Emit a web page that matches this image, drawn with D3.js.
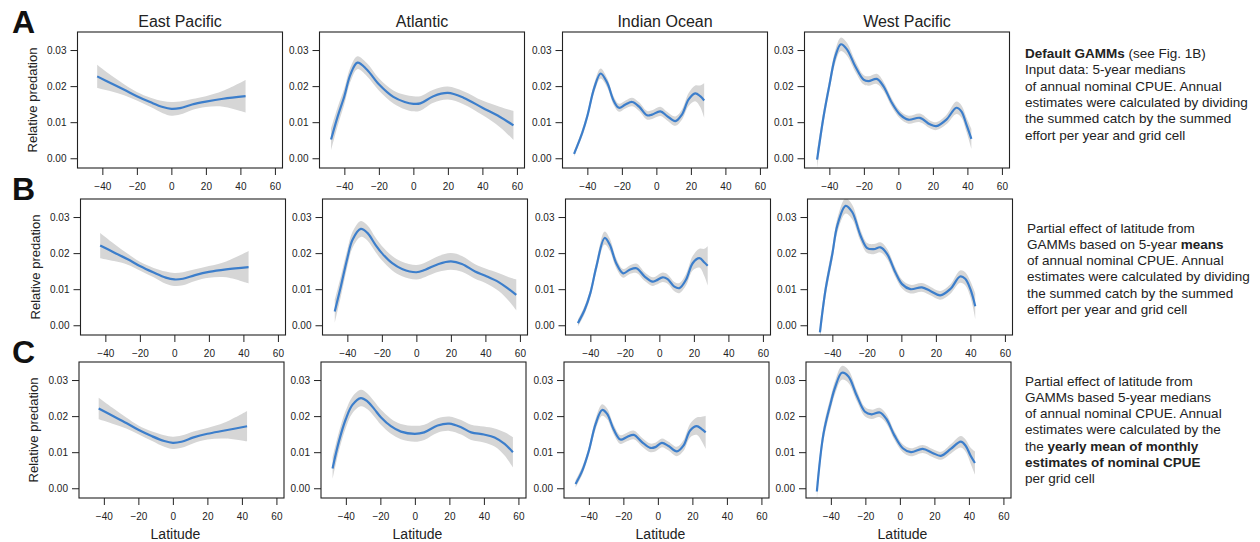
<!DOCTYPE html>
<html>
<head>
<meta charset="utf-8">
<script src="https://cdn.jsdelivr.net/npm/d3@7"></script>
<style>
  body { margin: 0; background: #fff; }
  svg { font-family: "Liberation Sans", Arial, sans-serif; }
</style>
</head>
<body>
<div id="my_dataviz"></div>
<script>
// column titles, row letters and ticks
var oceans = ["East Pacific", "Atlantic", "Indian Ocean", "West Pacific"];
var rowLetters = ["A", "B", "C"];
var xTicks = [-40, -20, 0, 20, 40, 60];
var yTicks = [0.00, 0.01, 0.02, 0.03];

// smooth fits: [latitude, partial effect, half width of the band]
var eastPacA = [[-43, .0227, .0032], [-35, .0208, .0022], [-27, .0189, .0015], [-20, .0172, .0012], [-12, .0155, .0013], [-5, .0142, .0017], [0, .0137, .0019], [5, .0139, .0018], [12, .0149, .0015], [20, .0157, .0015], [30, .0165, .0022], [43, .0172, .0045]];
var atlanticA = [[-47.7, .0052, .0030], [-43.8, .0117, .0026], [-40, .0172, .0022], [-36.5, .0232, .0020], [-32.4, .0265, .0018], [-27, .0246, .0018], [-20, .0205, .0017], [-11.6, .0170, .0018], [-5, .0156, .0020], [0, .0151, .0021], [4, .0152, .0020], [11.6, .0172, .0018], [20, .0181, .0018], [29, .0168, .0018], [40, .0140, .0020], [50, .0115, .0028], [58, .0091, .0040]];
var indianA = [[-47.7, .0012, .0008], [-43, .0070, .0010], [-40, .0117, .0011], [-36, .0195, .0013], [-32.3, .0235, .0014], [-28.5, .0209, .0013], [-24.6, .0158, .0012], [-21.7, .0140, .0011], [-17.9, .0149, .0011], [-14, .0156, .0012], [-10, .0143, .0012], [-5.4, .0119, .0012], [-2.5, .0121, .0012], [2.3, .0130, .0013], [6.2, .0117, .0012], [11, .0103, .0013], [14.8, .0121, .0014], [18.7, .0163, .0018], [22.5, .0180, .0022], [25.4, .0172, .0030], [27.7, .0160, .0048]];
var westPacA = [[-47.1, -.0004, .0025], [-43.3, .0117, .0018], [-40, .0202, .0017], [-36.5, .0283, .0018], [-33.3, .0316, .0019], [-29.8, .0302, .0018], [-25, .0255, .0015], [-20.2, .0218, .0013], [-17.3, .0214, .0013], [-12.5, .0220, .0014], [-8.7, .0200, .0013], [-3.8, .0154, .0012], [1, .0121, .0011], [5.8, .0107, .0011], [12.5, .0112, .0012], [18.3, .0094, .0011], [22, .0089, .0011], [27.8, .0107, .0013], [33.6, .0140, .0017], [36.5, .0130, .0017], [39.4, .0094, .0020], [42.3, .0054, .0028]];

var eastPacB = [[-43, .0221, .0035], [-35, .0202, .0024], [-27, .0183, .0015], [-20, .0164, .0012], [-12, .0146, .0013], [-5, .0132, .0017], [0, .0127, .0018], [5, .0129, .0018], [12, .0139, .0016], [20, .0148, .0016], [30, .0155, .0022], [43, .0161, .0045]];
var atlanticB = [[-47.3, .0038, .0032], [-43.8, .0107, .0028], [-40, .0186, .0024], [-37, .0237, .0022], [-32.2, .0267, .0022], [-28.4, .0256, .0021], [-23.7, .0223, .0020], [-20, .0200, .0020], [-14, .0172, .0020], [-8.3, .0156, .0020], [0, .0147, .0020], [5.2, .0154, .0020], [12.9, .0170, .0022], [20, .0177, .0023], [26.4, .0170, .0022], [34, .0149, .0020], [40, .0137, .0020], [47.9, .0119, .0025], [53.6, .0100, .0033], [57.9, .0084, .0043]];
var indianB = [[-47.2, .0006, .0010], [-43.3, .0043, .0011], [-40, .0089, .0012], [-36.5, .0163, .0015], [-31.7, .0242, .0018], [-28.8, .0224, .0017], [-25, .0172, .0014], [-21, .0144, .0012], [-17.2, .0154, .0012], [-13.3, .0158, .0013], [-8.5, .0135, .0012], [-3.9, .0121, .0012], [-1.9, .0124, .0012], [1.9, .0133, .0013], [4.8, .0128, .0013], [8.7, .0107, .0013], [11.6, .0103, .0014], [15.4, .0126, .0016], [19.3, .0172, .0020], [23.2, .0186, .0026], [26.1, .0174, .0038], [28, .0165, .0055]];
var westPacB = [[-47.2, -.0020, .0025], [-43.9, .0100, .0020], [-40, .0198, .0019], [-37.1, .0277, .0020], [-32.3, .0331, .0021], [-28.5, .0314, .0020], [-23.7, .0249, .0016], [-19.8, .0214, .0014], [-16, .0211, .0014], [-12.1, .0216, .0014], [-8.3, .0198, .0014], [-3.5, .0147, .0013], [0.4, .0114, .0012], [5.2, .0100, .0012], [11.9, .0105, .0012], [16.8, .0095, .0012], [22.5, .0083, .0012], [28.3, .0100, .0013], [34, .0135, .0017], [37, .0129, .0018], [40, .0100, .0022], [42.8, .0053, .0035]];

var eastPacC = [[-43, .0221, .0030], [-35, .0201, .0022], [-27, .0181, .0015], [-20, .0162, .0012], [-12, .0144, .0013], [-5, .0131, .0016], [0, .0126, .0017], [5, .0129, .0017], [12, .0141, .0016], [20, .0151, .0016], [30, .0160, .0022], [43, .0172, .0042]];
var atlanticC = [[-47.7, .0055, .0030], [-43.9, .0132, .0026], [-40, .0192, .0024], [-36.2, .0231, .0023], [-31.3, .0250, .0023], [-27.5, .0241, .0022], [-23.6, .0220, .0021], [-19.7, .0197, .0021], [-13.9, .0172, .0021], [-8.1, .0157, .0021], [0, .0151, .0022], [5.4, .0155, .0021], [13.2, .0174, .0020], [20, .0179, .0020], [26.8, .0169, .0020], [32.6, .0155, .0021], [40, .0149, .0022], [46.2, .0141, .0025], [52, .0123, .0032], [56.8, .0100, .0042]];
var indianC = [[-47.7, .0012, .0010], [-43.8, .0049, .0011], [-40, .0104, .0012], [-36.1, .0178, .0015], [-32.3, .0217, .0016], [-29.4, .0206, .0015], [-25.6, .0163, .0013], [-21.7, .0135, .0012], [-17.9, .0142, .0012], [-14, .0148, .0012], [-9.2, .0128, .0012], [-4.4, .0112, .0012], [-1.5, .0114, .0012], [2.3, .0126, .0012], [6.2, .0117, .0012], [11, .0102, .0013], [14.8, .0118, .0015], [18.7, .0160, .0019], [22.5, .0172, .0024], [25.4, .0164, .0034], [27.7, .0155, .0046]];
var westPacC = [[-48.1, -.0009, .0025], [-44.3, .0150, .0020], [-40, .0238, .0018], [-37.5, .0280, .0018], [-33.6, .0320, .0019], [-29.8, .0310, .0018], [-25, .0257, .0015], [-20.2, .0212, .0013], [-16.4, .0205, .0013], [-11.6, .0210, .0013], [-7.8, .0192, .0013], [-3.1, .0146, .0012], [1.7, .0111, .0011], [6.4, .0100, .0011], [13.2, .0109, .0011], [18.9, .0098, .0011], [23.8, .0090, .0011], [29.5, .0109, .0013], [35.3, .0129, .0016], [38.1, .0118, .0017], [41, .0090, .0022], [43.5, .0070, .0032]];

var panels = [
  [eastPacA, atlanticA, indianA, westPacA],
  [eastPacB, atlanticB, indianB, westPacB],
  [eastPacC, atlanticC, indianC, westPacC]
];

// side notes, one array of lines per row; each line is [text, bold] pieces
var notesA = [
  [["Default GAMMs", true], [" (see Fig. 1B)", false]],
  [["Input data: 5-year medians", false]],
  [["of annual nominal CPUE. Annual", false]],
  [["estimates were calculated by dividing", false]],
  [["the summed catch by the summed", false]],
  [["effort per year and grid cell", false]]
];
var notesB = [
  [["Partial effect of latitude from", false]],
  [["GAMMs based on 5-year ", false], ["means", true]],
  [["of annual nominal CPUE. Annual", false]],
  [["estimates were calculated by dividing", false]],
  [["the summed catch by the summed", false]],
  [["effort per year and grid cell", false]]
];
var notesC = [
  [["Partial effect of latitude from", false]],
  [["GAMMs based 5-year medians", false]],
  [["of annual nominal CPUE. Annual", false]],
  [["estimates were calculated by the", false]],
  [["the ", false], ["yearly mean of monthly", true]],
  [["estimates of nominal CPUE", true]],
  [["per grid cell", false]]
];
var notes = [notesA, notesB, notesC];

// layout
var width = 1260, height = 542;
var panelW = 205, panelH = 136;
var rowTop = [32, 199, 362];
var rowShift = [-1.5, 1.5, 0];
var colLeft = [79, 321, 564, 806];
var noteX = [1025, 1027, 1025];
var noteY = [58, 232.5, 385.5];
var lineH = 16.3;
var ink = "#222";

var svg = d3.select("#my_dataviz")
  .append("svg")
    .attr("width", width)
    .attr("height", height);

var x = d3.scaleLinear().domain([-54.4, 64.4]).range([0, panelW]);
var y = d3.scaleLinear().domain([-0.0027, 0.0350]).range([panelH, 0]);

var band = d3.area()
  .curve(d3.curveCatmullRom.alpha(0.5))
  .x(function(d) { return x(d[0]); })
  .y0(function(d) { return y(d[1] - d[2]); })
  .y1(function(d) { return y(d[1] + d[2]); });

var fitLine = d3.line()
  .curve(d3.curveCatmullRom.alpha(0.5))
  .x(function(d) { return x(d[0]); })
  .y(function(d) { return y(d[1]); });

svg.append("defs").append("clipPath")
    .attr("id", "plotclip")
  .append("rect")
    .attr("width", panelW)
    .attr("height", panelH);

panels.forEach(function(row, r) {
  row.forEach(function(data, c) {
    var g = svg.append("g")
      .attr("transform", "translate(" + (colLeft[c] + rowShift[r]) + "," + rowTop[r] + ")");

    // confidence band and fitted smooth
    var plot = g.append("g").attr("clip-path", "url(#plotclip)");
    plot.append("path")
      .datum(data)
      .attr("fill", "#d6d6d6")
      .attr("d", band);
    plot.append("path")
      .datum(data)
      .attr("fill", "none")
      .attr("stroke", "#3c7ecb")
      .attr("stroke-width", 2.2)
      .attr("d", fitLine);

    // axes
    var xAxis = g.append("g")
      .attr("transform", "translate(0," + panelH + ")")
      .call(d3.axisBottom(x).tickValues(xTicks).tickSize(7).tickPadding(8).tickFormat(d3.format("d")));
    var yAxis = g.append("g")
      .call(d3.axisLeft(y).tickValues(yTicks).tickSize(7).tickPadding(4).tickFormat(d3.format(".2f")));
    [xAxis, yAxis].forEach(function(ax) {
      ax.select(".domain").remove();
      ax.selectAll("line").attr("stroke", ink);
      ax.selectAll("text").attr("fill", ink).style("font-size", "10px")
        .style("font-family", "'Liberation Sans', Arial, sans-serif");
    });

    g.append("rect")
      .attr("width", panelW)
      .attr("height", panelH)
      .attr("fill", "none")
      .attr("stroke", ink)
      .attr("stroke-width", 1.1);

    if (r === 0) {
      g.append("text")
        .attr("x", panelW / 2)
        .attr("y", -5.5)
        .attr("text-anchor", "middle")
        .attr("fill", ink)
        .style("font-size", "16px")
        .text(oceans[c]);
    }
    if (c === 0) {
      g.append("text")
        .attr("transform", "translate(-41," + (panelH / 2) + ") rotate(-90)")
        .attr("text-anchor", "middle")
        .attr("fill", ink)
        .style("font-size", "13px")
        .text("Relative predation");
    }
    if (r === 2) {
      g.append("text")
        .attr("x", panelW / 2 - 6)
        .attr("y", panelH + 41)
        .attr("text-anchor", "middle")
        .attr("fill", ink)
        .style("font-size", "14px")
        .text("Latitude");
    }
  });

  // panel letter
  svg.append("text")
    .attr("x", 12)
    .attr("y", [33, 200, 363][r])
    .attr("fill", "#111")
    .style("font-size", "32px")
    .style("font-weight", "bold")
    .text(rowLetters[r]);

  // side note
  var note = svg.append("text")
    .attr("fill", ink)
    .style("font-size", "13.5px");
  notes[r].forEach(function(line, i) {
    var t = note.append("tspan")
      .attr("x", noteX[r])
      .attr("y", noteY[r] + i * lineH);
    line.forEach(function(piece, k) {
      (k === 0 ? t : note.append("tspan"))
        .style("font-weight", piece[1] ? "bold" : "normal")
        .text(piece[0]);
    });
  });
});
</script>
</body>
</html>
